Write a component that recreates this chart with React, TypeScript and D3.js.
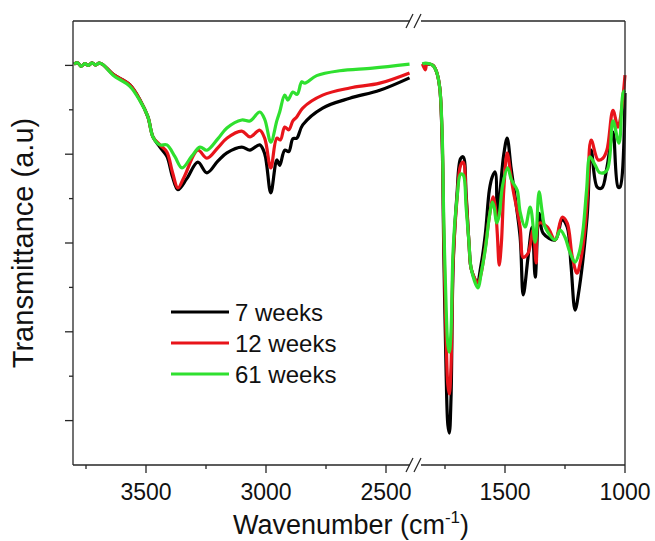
import React from "react";
import * as d3 from "d3";

// ---------- data (wavenumber cm-1, transmittance a.u.) ----------
const seriesNames = ["7 weeks", "12 weeks", "61 weeks"];
const seriesColors = ["#000000", "#e8141a", "#2fe02f"];

const leftTicksMajor = [3500, 3000, 2500];
const leftTicksMinor = [3750, 3250, 2750];
const rightTicksMajor = [1500, 1000];
const rightTicksMinor = [1750, 1250];
const yTicksMajor = [10, 30, 50, 70, 90];
const yTicksMinor = [20, 40, 60, 80];

const noiseStart: [number, number][] = [
  [3800, 90.3], [3785, 90.6], [3770, 89.8], [3755, 90.4], [3740, 90.0],
  [3725, 90.6], [3710, 90.1], [3695, 90.5], [3680, 90.2],
];

const black7Left: [number, number][] = [
  ...noiseStart,
  [3637, 88.0], [3567, 85.6], [3525, 82.2], [3492, 78.4], [3471, 73.9],
  [3442, 71.6], [3413, 69.5], [3390, 65.0], [3367, 62.0], [3330, 64.5],
  [3284, 68.2], [3246, 65.8], [3200, 68.5], [3163, 70.3], [3101, 71.6],
  [3067, 70.9], [3026, 72.1], [3005, 70.0], [2980, 61.3], [2955, 68.7],
  [2943, 67.5], [2922, 70.9], [2905, 70.6], [2888, 73.5], [2872, 73.6],
  [2847, 76.6], [2764, 80.4], [2651, 82.6], [2526, 84.4], [2402, 87.2],
];
const red12Left: [number, number][] = [
  ...noiseStart,
  [3637, 88.0], [3567, 85.6], [3525, 82.2], [3492, 78.4], [3471, 73.9],
  [3442, 72.1], [3413, 70.5], [3390, 66.0], [3367, 62.4], [3340, 65.0],
  [3284, 70.9], [3246, 69.1], [3200, 71.5], [3163, 73.6], [3101, 75.2],
  [3067, 73.9], [3026, 75.4], [3005, 73.5], [2980, 66.9], [2955, 73.6],
  [2940, 73.2], [2922, 76.1], [2905, 75.5], [2888, 77.5], [2872, 78.4],
  [2847, 80.4], [2764, 83.3], [2651, 84.9], [2526, 86.0], [2402, 88.3],
];
const green61Left: [number, number][] = [
  ...noiseStart,
  [3637, 87.8], [3567, 85.3], [3525, 82.0], [3492, 78.4], [3471, 73.9],
  [3442, 72.1], [3413, 72.1], [3380, 69.5], [3350, 66.9], [3310, 69.5],
  [3275, 71.6], [3246, 70.9], [3200, 73.5], [3163, 75.9], [3101, 77.7],
  [3067, 77.5], [3026, 79.5], [3005, 77.8], [2980, 72.7], [2955, 77.5],
  [2943, 79.5], [2922, 83.3], [2909, 82.2], [2888, 84.0], [2870, 83.5],
  [2851, 86.3], [2838, 86.0], [2789, 87.7], [2693, 88.8], [2556, 89.4],
  [2402, 90.3],
];

const black7Right: [number, number][] = [
  [1844, 90.3], [1800, 90.0], [1785, 88.5], [1772, 85], [1762, 73],
  [1755, 48], [1745, 20], [1738, 9], [1732, 7.2], [1725, 15], [1716, 45],
  [1700, 61], [1685, 69], [1674, 69.4], [1662, 61], [1650, 50], [1640, 44],
  [1616, 41.2], [1600, 45], [1582, 52], [1565, 62], [1553, 64.9],
  [1541, 66.0], [1532, 55.8], [1520, 62], [1505, 70], [1491, 73.6],
  [1475, 67], [1466, 63.5], [1437, 51.3], [1424, 38.3], [1404, 46.8],
  [1387, 53.6], [1374, 42.3], [1358, 56.7], [1341, 52.2], [1291, 50.7],
  [1262, 55.2], [1241, 53.6], [1225, 45], [1208, 34.9], [1190, 40],
  [1158, 55.8], [1141, 70.9], [1116, 62.6], [1096, 62.4], [1075, 67.1],
  [1050, 75.0], [1029, 62.6], [1021, 62.6], [1000, 83.8],
];
const red12Right: [number, number][] = [
  [1844, 90.3], [1832, 89.0], [1825, 90.3], [1800, 90.0], [1785, 88.5],
  [1772, 85], [1762, 74], [1755, 52], [1745, 28], [1738, 18], [1732, 16],
  [1725, 22], [1716, 46], [1700, 60], [1685, 67.5], [1674, 68.2],
  [1662, 60], [1650, 50], [1640, 44], [1612, 41.0], [1600, 43], [1582, 49],
  [1565, 56], [1549, 60.4], [1540, 58], [1532, 52], [1524, 45.0],
  [1515, 50], [1505, 62], [1491, 70.3], [1475, 65], [1466, 61.9],
  [1437, 53.6], [1424, 46.8], [1404, 47.7], [1383, 52.9], [1370, 45.5],
  [1358, 54.5], [1324, 53.6], [1291, 50.7], [1262, 55.8], [1241, 54.5],
  [1220, 47], [1200, 43.2], [1185, 46], [1166, 53.6], [1155, 62],
  [1141, 73.2], [1112, 68.7], [1092, 69.1], [1075, 71], [1050, 79.9],
  [1029, 76.1], [1000, 87.8],
];
const green61Right: [number, number][] = [
  [1844, 90.3], [1830, 90.5], [1800, 90.0], [1785, 88.5], [1772, 85],
  [1762, 75], [1755, 55], [1745, 35], [1738, 27], [1732, 25.4], [1725, 30],
  [1716, 48.6], [1700, 60], [1685, 65.5], [1674, 65.3], [1662, 58],
  [1650, 50], [1640, 44], [1612, 39.9], [1600, 43], [1582, 48.6],
  [1565, 56], [1553, 59.2], [1545, 58], [1535, 54.5], [1525, 56],
  [1510, 63], [1489, 66.9], [1475, 64.5], [1466, 63.5], [1449, 61.9],
  [1437, 57], [1416, 53.6], [1395, 58.1], [1374, 50.2], [1358, 61.5],
  [1345, 57], [1333, 53.6], [1291, 50.7], [1270, 52.9], [1250, 51.3],
  [1230, 48], [1208, 45.7], [1190, 48], [1175, 52.9], [1160, 62],
  [1146, 69.4], [1125, 67.6], [1104, 65.8], [1075, 66.4], [1050, 77.5],
  [1025, 72.5], [1008, 83.8], [1000, 84.4],
];

const leftSeries = [black7Left, red12Left, green61Left];
const rightSeries = [black7Right, red12Right, green61Right];

// ---------- layout ----------
const W = 655;
const H = 541;
const top = 21;
const bottom = 465;
const xL = d3.scaleLinear().domain([3800, 2400]).range([74, 410]);
const xR = d3.scaleLinear().domain([1850, 1000]).range([421, 625]);
const y = d3.scaleLinear().domain([0, 100]).range([bottom, top]);

const FONT = "'Liberation Sans', Arial, Helvetica, sans-serif";
const AX = "#262626";

export default function App() {
  const lineL = d3
    .line<[number, number]>()
    .x((d) => xL(d[0]))
    .y((d) => y(d[1]))
    .curve(d3.curveCatmullRom.alpha(0.5));
  const lineR = d3
    .line<[number, number]>()
    .x((d) => xR(d[0]))
    .y((d) => y(d[1]))
    .curve(d3.curveCatmullRom.alpha(0.5));

  const leftEdge = xL.range()[0] - 1;
  const breakL = xL.range()[1];
  const breakR = xR.range()[0];
  const right = xR.range()[1];

  const slashes = (yy: number) => (
    <g stroke={AX} strokeWidth={1.3}>
      <line x1={breakL - 4} y1={yy + 7} x2={breakL + 3} y2={yy - 7} />
      <line x1={breakL + 4} y1={yy + 7} x2={breakL + 11} y2={yy - 7} />
    </g>
  );

  return (
    <svg
      width={W}
      height={H}
      style={{ position: "absolute", left: 0, top: 0, background: "#fff" }}
      fontFamily={FONT}
    >
      {/* data lines */}
      {leftSeries.map((s, i) => (
        <path key={"l" + i} d={lineL(s) || ""} fill="none" stroke={seriesColors[i]} strokeWidth={3.2} strokeLinejoin="round" />
      ))}
      {rightSeries.map((s, i) => (
        <path key={"r" + i} d={lineR(s) || ""} fill="none" stroke={seriesColors[i]} strokeWidth={3.2} strokeLinejoin="round" />
      ))}

      {/* frame */}
      <g stroke={AX} strokeWidth={1.3} fill="none">
        <line x1={leftEdge} y1={top} x2={leftEdge} y2={bottom} />
        <line x1={right} y1={top} x2={right} y2={bottom} />
        <line x1={leftEdge} y1={top} x2={breakL} y2={top} />
        <line x1={breakR} y1={top} x2={right} y2={top} />
        <line x1={leftEdge} y1={bottom} x2={breakL} y2={bottom} />
        <line x1={breakR} y1={bottom} x2={right} y2={bottom} />
      </g>
      {slashes(top)}
      {slashes(bottom)}

      {/* ticks */}
      <g stroke={AX} strokeWidth={1.3}>
        {yTicksMajor.map((t) => (
          <line key={"ym" + t} x1={leftEdge - 8} x2={leftEdge} y1={y(t)} y2={y(t)} />
        ))}
        {yTicksMinor.map((t) => (
          <line key={"yn" + t} x1={leftEdge - 4} x2={leftEdge} y1={y(t)} y2={y(t)} />
        ))}
        {leftTicksMajor.map((t) => (
          <line key={"xm" + t} x1={xL(t)} x2={xL(t)} y1={bottom} y2={bottom + 8} />
        ))}
        {leftTicksMinor.map((t) => (
          <line key={"xn" + t} x1={xL(t)} x2={xL(t)} y1={bottom} y2={bottom + 4} />
        ))}
        {rightTicksMajor.map((t) => (
          <line key={"rm" + t} x1={xR(t)} x2={xR(t)} y1={bottom} y2={bottom + 8} />
        ))}
        {rightTicksMinor.map((t) => (
          <line key={"rn" + t} x1={xR(t)} x2={xR(t)} y1={bottom} y2={bottom + 4} />
        ))}
      </g>

      {/* tick labels */}
      <g fontSize={23} fill="#111" textAnchor="middle">
        {leftTicksMajor.map((t) => (
          <text key={"lt" + t} x={xL(t)} y={500}>{t}</text>
        ))}
        {rightTicksMajor.map((t) => (
          <text key={"rt" + t} x={xR(t)} y={500}>{t}</text>
        ))}
      </g>

      {/* axis titles */}
      <text x={351} y={534} fontSize={27} textAnchor="middle" fill="#111">
        Wavenumber (cm
        <tspan fontSize={17} dy={-11}>-1</tspan>
        <tspan dy={11}>)</tspan>
      </text>
      <text
        transform="translate(33,243) rotate(-90)"
        fontSize={29}
        textAnchor="middle"
        fill="#111"
      >
        Transmittance (a.u)
      </text>

      {/* legend */}
      {seriesNames.map((n, i) => (
        <g key={n}>
          <line x1={171} x2={229} y1={312 + i * 31} y2={312 + i * 31} stroke={seriesColors[i]} strokeWidth={3} />
          <text x={235} y={321 + i * 31} fontSize={24} fill="#111">{n}</text>
        </g>
      ))}
    </svg>
  );
}
